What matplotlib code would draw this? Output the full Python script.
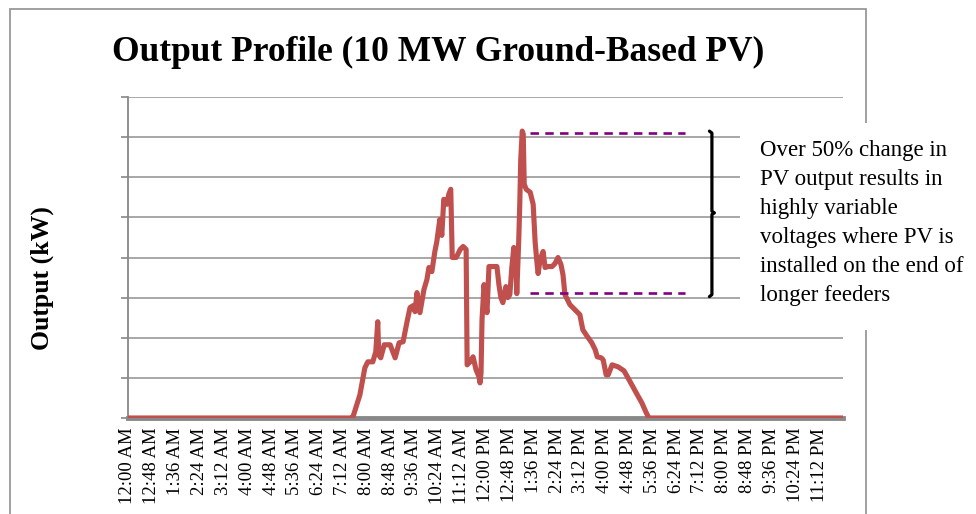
import matplotlib.pyplot as plt
from matplotlib.patches import Rectangle

# Tiempo (minutos desde medianoche) y salida (kW)
minutes = [0, 451, 453, 467, 477, 483, 493, 499, 503, 505, 509, 516, 528, 538,
           546, 554, 562, 568, 574, 578, 582, 588, 596, 602, 606, 612, 618, 622,
           628, 632, 636, 642, 646, 650, 653, 661, 669, 675, 681, 683, 689, 695,
           701, 707, 709, 711, 713, 717, 721, 723, 727, 743, 747, 751, 755, 761,
           765, 769, 773, 777, 781, 783, 787, 789, 791, 794, 796, 798, 802, 810,
           816, 820, 824, 826, 830, 836, 840, 846, 854, 860, 866, 872, 876, 880,
           890, 900, 910, 916, 924, 934, 941, 945, 953, 957, 963, 967, 975, 987,
           999, 1007, 1017, 1027, 1035, 1043, 1049, 1440]
output_kw = [0, 0, 25, 575, 1250, 1400, 1400, 1650, 2400, 1575, 1500, 1825, 1825, 1500,
             1875, 1900, 2400, 2750, 2800, 2650, 3125, 2625, 3200, 3450, 3750, 3650, 4150, 4400,
             4950, 4550, 5450, 5325, 5575, 5700, 4000, 4000, 4200, 4275, 4200, 1325, 1400, 1525,
             1200, 1025, 875, 1125, 2450, 3325, 2825, 2625, 3775, 3775, 3325, 3000, 2875, 3275,
             3000, 3075, 3750, 4250, 3900, 3100, 4450, 5325, 6450, 7150, 7075, 5825, 5700, 5625,
             5325, 4375, 3825, 3600, 3950, 4150, 3750, 3775, 3775, 3850, 4000, 3825, 3575, 3075,
             2825, 2700, 2575, 2200, 2050, 1875, 1700, 1525, 1500, 1450, 1075, 1075, 1325, 1275,
             1175, 1000, 775, 550, 375, 150, 0, 0]

tick_minutes = list(range(0, 1440, 48))
tick_labels = ['12:00 AM', '12:48 AM', '1:36 AM', '2:24 AM', '3:12 AM', '4:00 AM',
               '4:48 AM', '5:36 AM', '6:24 AM', '7:12 AM', '8:00 AM', '8:48 AM',
               '9:36 AM', '10:24 AM', '11:12 AM', '12:00 PM', '12:48 PM', '1:36 PM',
               '2:24 PM', '3:12 PM', '4:00 PM', '4:48 PM', '5:36 PM', '6:24 PM',
               '7:12 PM', '8:00 PM', '8:48 PM', '9:36 PM', '10:24 PM', '11:12 PM']

# niveles marcados (pico y valor posterior) y rango de las lineas
peak_kw = 7100
low_kw = 3125
dash_start, dash_end = 810, 1122
bracket_x = 1176

serif = 'Liberation Serif'

fig = plt.figure(figsize=(9.76, 5.14), dpi=100)
ax = fig.add_axes([128 / 976, 1 - 418 / 514, 715 / 976, 321 / 514])

ax.plot(minutes, output_kw, color='#C0504D', lw=3.7, zorder=4,
        solid_joinstyle='round', solid_capstyle='round')

ax.hlines([peak_kw, low_kw], dash_start, dash_end, colors='#800080', lw=1.9,
          linestyles=[(0, (3.2, 2.4))], zorder=5)

# corchete
mid = (peak_kw + low_kw) / 2
ax.plot([bracket_x - 5, bracket_x, bracket_x, bracket_x + 5, bracket_x, bracket_x, bracket_x - 5],
        [peak_kw + 50, peak_kw, mid + 40, mid, mid - 40, low_kw - 50, low_kw - 100],
        color='black', lw=2.3, zorder=5, solid_capstyle='round')

ax.set_xlim(0, 1440)
ax.set_ylim(0, 8000)
ax.set_yticks(range(0, 8001, 1000))
ax.set_yticklabels([])
ax.yaxis.grid(True, color='#a0a0a0', lw=1.3)
ax.set_axisbelow(True)
ax.tick_params(axis='y', length=5, width=1.2, color='#888888', direction='out')

ax.set_xticks(tick_minutes)
ax.set_xticklabels(tick_labels, rotation=90, fontsize=13.5, family=serif)
ax.tick_params(axis='x', length=0, pad=7)

for s in ['top', 'right']:
    ax.spines[s].set_visible(False)
ax.spines['left'].set_color('#888888')
ax.spines['left'].set_linewidth(1.3)
ax.spines['bottom'].set_color('#888888')
ax.spines['bottom'].set_linewidth(3.5)
ax.spines['bottom'].set_zorder(3)

ax.set_ylabel('Output (kW)', fontsize=18.5, fontweight='bold', family=serif)
ax.yaxis.set_label_coords(-74 / 715, (418 - 278) / 321)

fig.text(438 / 976, 1 - 52 / 514, 'Output Profile (10 MW Ground-Based PV)',
         ha='center', va='center', fontsize=25.5, fontweight='bold', family=serif)

# marco exterior
fig.add_artist(Rectangle((10 / 976, -0.1), 856 / 976, 1.1 - 9 / 514, transform=fig.transFigure,
                         fill=False, edgecolor='#999999', lw=1.3, zorder=1))
# fondo blanco del cuadro de texto
fig.add_artist(Rectangle((740 / 976, 1 - 330 / 514), 236 / 976, 207 / 514, transform=fig.transFigure,
                         facecolor='white', edgecolor='none', zorder=2))
fig.text(760 / 976, 1 - 140 / 514,
         'Over 50% change in\nPV output results in\nhighly variable\nvoltages where PV is\n'
         'installed on the end of\nlonger feeders',
         ha='left', va='top', fontsize=16.5, family=serif, linespacing=1.5, zorder=3)

fig.savefig('out.png', dpi=100)
